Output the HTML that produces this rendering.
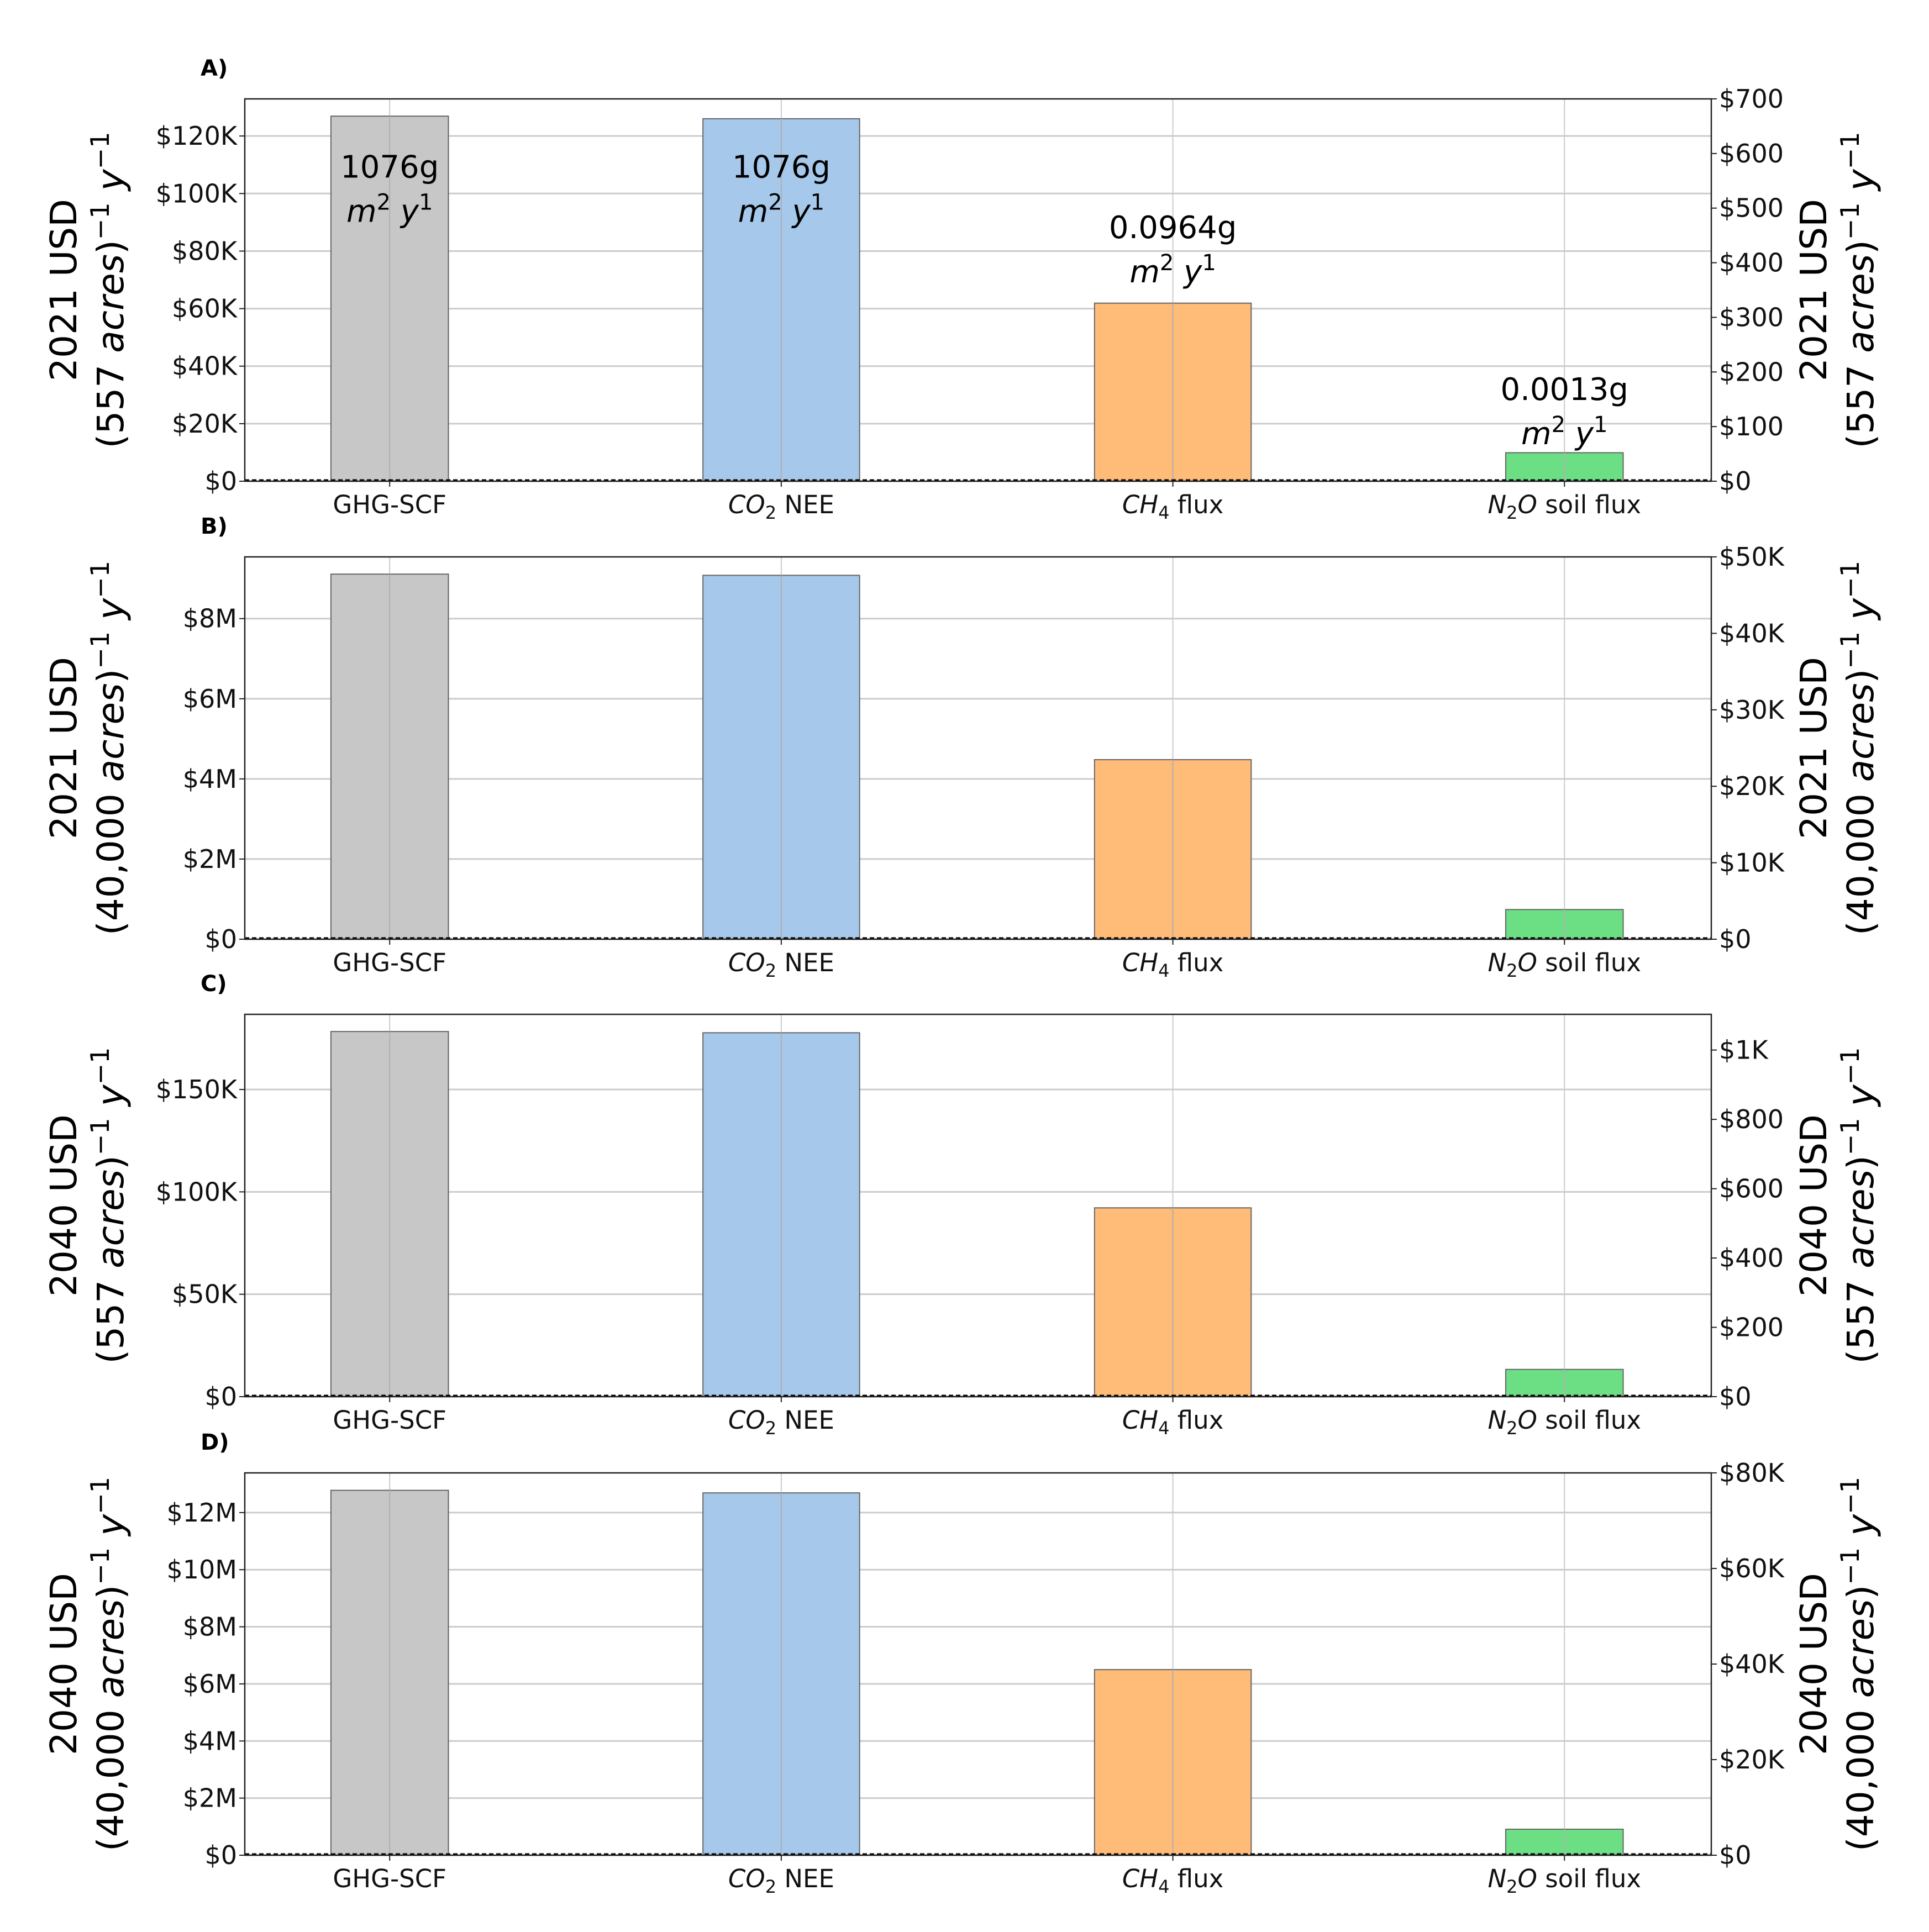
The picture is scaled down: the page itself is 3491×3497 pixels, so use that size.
<!DOCTYPE html>
<html><head><meta charset="utf-8"><style>
html,body{margin:0;padding:0;background:#fff;}
svg{display:block;font-family:"DejaVu Sans","Liberation Sans",sans-serif;}
</style></head><body>
<svg id="chart" width="3491" height="3497" viewBox="0 0 3491 3497" xmlns="http://www.w3.org/2000/svg"></svg>
<script>
const categories = ["GHG-SCF","CO2 NEE","CH4 flux","N2O soil flux"];
const barWidths = [0.3,0.4,0.4,0.3];
const colors = ["#c7c7c7","#a6c8ea","#ffbb78","#6cdf84"];
const valuesA = [126900,126000,61900,9900];
const valuesB = [9110000,9080000,4480000,740000];
const valuesC = [178300,177700,92200,13300];
const valuesD = [12780000,12690000,6500000,910000];
const leftTicksA = [0,20000,40000,60000,80000,100000,120000];
const leftLabelsA = ["$0","$20K","$40K","$60K","$80K","$100K","$120K"];
const rightTicksA = [0,100,200,300,400,500,600,700];
const rightLabelsA = ["$0","$100","$200","$300","$400","$500","$600","$700"];
const leftTicksB = [0,2e6,4e6,6e6,8e6];
const leftLabelsB = ["$0","$2M","$4M","$6M","$8M"];
const rightTicksB = [0,10000,20000,30000,40000,50000];
const rightLabelsB = ["$0","$10K","$20K","$30K","$40K","$50K"];
const leftTicksC = [0,50000,100000,150000];
const leftLabelsC = ["$0","$50K","$100K","$150K"];
const rightTicksC = [0,200,400,600,800,1000];
const rightLabelsC = ["$0","$200","$400","$600","$800","$1K"];
const leftTicksD = [0,2e6,4e6,6e6,8e6,10e6,12e6];
const leftLabelsD = ["$0","$2M","$4M","$6M","$8M","$10M","$12M"];
const rightTicksD = [0,20000,40000,60000,80000];
const rightLabelsD = ["$0","$20K","$40K","$60K","$80K"];
const annotTexts = ["1076g","1076g","0.0964g","0.0013g"];
const annotY = [105500,105500,84500,28200];

const panels = [
 {letter:"A)",top:179,vals:valuesA,lmax:132900,rmax:700,lt:leftTicksA,ll:leftLabelsA,rt:rightTicksA,rl:rightLabelsA,year:"2021",acres:"557",annot:true},
 {letter:"B)",top:1008,vals:valuesB,lmax:9540000,rmax:50000,lt:leftTicksB,ll:leftLabelsB,rt:rightTicksB,rl:rightLabelsB,year:"2021",acres:"40,000"},
 {letter:"C)",top:1836,vals:valuesC,lmax:186700,rmax:1103,lt:leftTicksC,ll:leftLabelsC,rt:rightTicksC,rl:rightLabelsC,year:"2040",acres:"557"},
 {letter:"D)",top:2666,vals:valuesD,lmax:13390000,rmax:80000,lt:leftTicksD,ll:leftLabelsD,rt:rightTicksD,rl:rightLabelsD,year:"2040",acres:"40,000"}
];
const NS="http://www.w3.org/2000/svg";
const svg=document.getElementById('chart');
const L=443,R=3097,H=692;
const xmin=-0.37,xmax=3.375;
function xs(v){return L+(v-xmin)/(xmax-xmin)*(R-L);}
function mk(tag,attrs,parent){const e=document.createElementNS(NS,tag);for(const k in attrs)e.setAttribute(k,attrs[k]);(parent||svg).appendChild(e);return e;}
function catLabel(i,g,x,y){
  const t=mk('text',{x:x,y:y,'text-anchor':'middle','font-size':45,fill:'#111'},g);
  const parts=[[["CO","i"],["2","sub"],[" NEE",""]],[["CH","i"],["4","sub"],[" flux",""]],[["N","i"],["2","subi"],["O","i"],[" soil flux",""]]];
  if(i===0){t.textContent="GHG-SCF";return t;}
  for(const [s,st] of parts[i-1]){
    const ts=mk('tspan',{},t);ts.textContent=s;
    if(st==="i")ts.setAttribute('font-style','italic');
    if(st==="sub"||st==="subi"){ts.setAttribute('font-size',32);ts.setAttribute('dy',10);}
    ts.setAttribute('data-s',st);
  }
  const kids=[...t.childNodes];
  for(let k=1;k<kids.length;k++){if(/sub/.test(kids[k-1].getAttribute('data-s'))) kids[k].setAttribute('dy',-10);}
  return t;
}
panels.forEach((p,pi)=>{
  const g=mk('g',{});
  
  
  const T=p.top,B=p.top+H;
  const yl=v=>B-v/p.lmax*H, yr=v=>B-v/p.rmax*H;
  const lt=mk('text',{x:363,y:T-42,'font-size':40,'font-weight':'bold',fill:'#000'},g);lt.textContent=p.letter;
  
  
  p.lt.forEach(v=>{mk('line',{x1:L,x2:R,y1:yl(v),y2:yl(v),stroke:'#cccccc','stroke-width':3},g);});
  categories.forEach((c,i)=>{mk('line',{x1:xs(i),x2:xs(i),y1:T,y2:B,stroke:'#cccccc','stroke-width':2},g);});
  p.vals.forEach((v,i)=>{
    const w=barWidths[i]*(R-L)/(xmax-xmin);
    const r=mk('rect',{x:xs(i)-w/2,y:yl(v),width:w,height:B-yl(v),fill:colors[i],stroke:'#666','stroke-width':2},g);
    
    
    mk('line',{x1:xs(i),x2:xs(i),y1:yl(v),y2:B,stroke:'#b0b0b0','stroke-width':2},g);
  });
  mk('line',{x1:L,x2:R,y1:B-2,y2:B-2,stroke:'#000','stroke-width':3,'stroke-dasharray':'8,5'},g);
  mk('rect',{x:L,y:T,width:R-L,height:H,fill:'none',stroke:'#222','stroke-width':2.5},g);
  p.lt.forEach((v,k)=>{
    mk('line',{x1:L-10,x2:L,y1:yl(v),y2:yl(v),stroke:'#222','stroke-width':2},g);
    const t=mk('text',{x:L-14,y:yl(v)+16,'text-anchor':'end','font-size':46,fill:'#111'},g);t.textContent=p.ll[k];
    
    
  });
  p.rt.forEach((v,k)=>{
    mk('line',{x1:R,x2:R+10,y1:yr(v),y2:yr(v),stroke:'#222','stroke-width':2},g);
    const t=mk('text',{x:R+14,y:yr(v)+16,'text-anchor':'start','font-size':46,fill:'#111'},g);t.textContent=p.rl[k];
    
    
  });
  categories.forEach((c,i)=>{
    mk('line',{x1:xs(i),x2:xs(i),y1:B,y2:B+10,stroke:'#222','stroke-width':2},g);
    const t=catLabel(i,g,xs(i),B+58);
    
    
  });
  const cy=T+H/2;
  [[116,201,'left'],[3283,3368,'right']].forEach(([x1,x2,side])=>{
    const a=mk('text',{transform:`translate(${x1},${cy}) rotate(-90)`,'text-anchor':'middle','font-size':66,fill:'#000',y:22},g);
    a.textContent=p.year+" USD";
    
    
    const b=mk('text',{transform:`translate(${x2},${cy}) rotate(-90)`,'text-anchor':'middle','font-size':66,fill:'#000',y:22},g);
    b.innerHTML=`(${p.acres} <tspan font-style="italic">acres</tspan>)<tspan font-size="46" dy="-26">−1</tspan><tspan dy="26"> </tspan><tspan font-style="italic">y</tspan><tspan font-size="46" dy="-26">−1</tspan>`;
    
    
  });
  if(p.annot){
    annotTexts.forEach((s,i)=>{
      const y=yl(annotY[i]);
      const t=mk('text',{x:xs(i),y:y,'text-anchor':'middle','font-size':56,fill:'#000'},g);t.textContent=s;
      
      
      const u=mk('text',{x:xs(i),y:y+80,'text-anchor':'middle','font-size':56,fill:'#000'},g);
      u.innerHTML='<tspan font-style="italic">m</tspan><tspan font-size="40" dy="-22">2</tspan><tspan dy="22"> </tspan><tspan font-style="italic">y</tspan><tspan font-size="40" dy="-22">1</tspan>';
      
      
    });
  }
});
</script>
</body></html>
